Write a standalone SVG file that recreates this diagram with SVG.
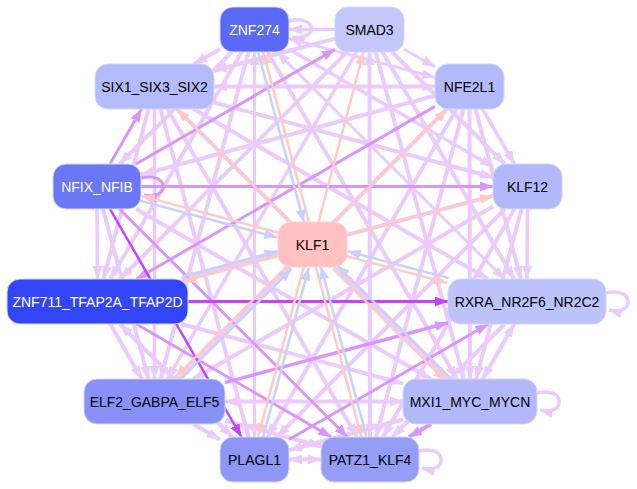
<svg xmlns="http://www.w3.org/2000/svg" width="637" height="489" viewBox="0 0 637 489">
<defs>
<style>
.e{fill:none;stroke-linecap:butt}
.L{stroke:#eacbfc}
.M{stroke:#da95fa}
.B{stroke:#c443fb}
.S{stroke:#ffcac4}
.C{stroke:#c9d1f9}
.w2{stroke-width:2.5}
.w3{stroke-width:3}
.w35{stroke-width:3.5}
.w4{stroke-width:4}
.n{stroke:#d3d6fb;stroke-width:1}
.t{font-family:"Liberation Sans",Arial,sans-serif;font-size:14px;text-anchor:middle;dominant-baseline:central}
.dk{fill:#000}
.wt{fill:#fff}
</style>
<marker id="aL" markerUnits="userSpaceOnUse" markerWidth="13" markerHeight="10" refX="13" refY="5" orient="auto-start-reverse"><path d="M0,0L13,5L0,10z" fill="#eacbfc"/></marker>
<marker id="aM" markerUnits="userSpaceOnUse" markerWidth="13" markerHeight="10" refX="13" refY="5" orient="auto-start-reverse"><path d="M0,0L13,5L0,10z" fill="#da95fa"/></marker>
<marker id="aB" markerUnits="userSpaceOnUse" markerWidth="13" markerHeight="10" refX="13" refY="5" orient="auto-start-reverse"><path d="M0,0L13,5L0,10z" fill="#c443fb"/></marker>
<marker id="aS" markerUnits="userSpaceOnUse" markerWidth="13" markerHeight="10" refX="13" refY="5" orient="auto-start-reverse"><path d="M0,0L13,5L0,10z" fill="#ffcac4"/></marker>
<marker id="aC" markerUnits="userSpaceOnUse" markerWidth="13" markerHeight="10" refX="13" refY="5" orient="auto-start-reverse"><path d="M0,0L13,5L0,10z" fill="#c9d1f9"/></marker>
</defs>
<rect width="637" height="489" fill="#fff"/>
<g id="edges">
<!-- outer edges -->
<line class="e L w35" x1="335" y1="29.5" x2="289" y2="29.5" marker-end="url(#aL)"/>
<line class="e L w4" x1="220" y1="49.2" x2="194" y2="64" marker-end="url(#aL)"/>
<line class="e L w3" x1="289" y1="38.6" x2="435" y2="77.4" marker-start="url(#aL)" marker-end="url(#aL)"/>
<line class="e L w4" x1="231.9" y1="52" x2="119.6" y2="164" marker-end="url(#aL)"/>
<line class="e L w35" x1="289" y1="49.3" x2="493" y2="166.7" marker-end="url(#aL)"/>
<line class="e L w4" x1="241.5" y1="52" x2="110.5" y2="279" marker-end="url(#aL)"/>
<line class="e L w3" x1="277" y1="52" x2="504.5" y2="279" marker-start="url(#aL)" marker-end="url(#aL)"/>
<line class="e L w4" x1="248.5" y1="52" x2="160.5" y2="379" marker-end="url(#aL)"/>
<line class="e L w4" x1="267.5" y1="52" x2="457" y2="379" marker-end="url(#aL)"/>
<line class="e L w3" x1="254.5" y1="52" x2="254.5" y2="437" marker-start="url(#aL)" marker-end="url(#aL)"/>
<line class="e L w4" x1="335" y1="38.6" x2="214" y2="70.7" marker-end="url(#aL)"/>
<line class="e L w3" x1="404" y1="49.2" x2="435" y2="66.8" marker-end="url(#aL)"/>
<line class="e L w4" x1="392.1" y1="52" x2="504.9" y2="164" marker-end="url(#aL)"/>
<line class="e L w4" x1="347" y1="52" x2="120" y2="279" marker-end="url(#aL)"/>
<line class="e L w4" x1="382.5" y1="52" x2="514" y2="279" marker-end="url(#aL)"/>
<line class="e L w35" x1="356.5" y1="52" x2="167.5" y2="379" marker-end="url(#aL)"/>
<line class="e L w4" x1="375.6" y1="52" x2="463.9" y2="379" marker-end="url(#aL)"/>
<line class="e L w4" x1="369.5" y1="52" x2="370" y2="437" marker-start="url(#aL)" marker-end="url(#aL)"/>
<line class="e L w4" x1="214" y1="86.5" x2="435" y2="86.5" marker-start="url(#aL)" marker-end="url(#aL)"/>
<line class="e L w4" x1="214" y1="102.5" x2="493" y2="177.2" marker-end="url(#aL)"/>
<line class="e L w4" x1="148.5" y1="109" x2="103.5" y2="279" marker-end="url(#aL)"/>
<line class="e L w4" x1="193.5" y1="109" x2="488" y2="279" marker-end="url(#aL)"/>
<line class="e L w35" x1="154.5" y1="109" x2="154.5" y2="379" marker-end="url(#aL)"/>
<line class="e L w4" x1="177" y1="109" x2="447.5" y2="379" marker-end="url(#aL)"/>
<line class="e L w4" x1="160.5" y1="109" x2="248.5" y2="437" marker-end="url(#aL)"/>
<line class="e L w4" x1="167.5" y1="109" x2="357" y2="437" marker-end="url(#aL)"/>
<line class="e L w4" x1="435" y1="95.8" x2="141" y2="174.7" marker-end="url(#aL)"/>
<line class="e L w35" x1="482.5" y1="109" x2="514.5" y2="164" marker-end="url(#aL)"/>
<line class="e L w4" x1="475.5" y1="109" x2="521" y2="279" marker-end="url(#aL)"/>
<line class="e L w4" x1="447" y1="109" x2="177" y2="379" marker-end="url(#aL)"/>
<line class="e L w4" x1="469.5" y1="109" x2="470" y2="379" marker-end="url(#aL)"/>
<line class="e L w4" x1="456.5" y1="109" x2="267.5" y2="437" marker-end="url(#aL)"/>
<line class="e L w4" x1="463.5" y1="109" x2="376" y2="437" marker-end="url(#aL)"/>
<line class="e L w35" x1="97" y1="209" x2="97.5" y2="279" marker-end="url(#aL)"/>
<line class="e L w4" x1="103" y1="209" x2="148.5" y2="379" marker-end="url(#aL)"/>
<line class="e L w4" x1="136" y1="209" x2="431" y2="379" marker-end="url(#aL)"/>
<line class="e L w4" x1="493" y1="195.7" x2="181.7" y2="279" marker-end="url(#aL)"/>
<line class="e L w35" x1="527.5" y1="209" x2="527" y2="279" marker-end="url(#aL)"/>
<line class="e L w4" x1="493" y1="206.4" x2="193.5" y2="379" marker-end="url(#aL)"/>
<line class="e L w4" x1="521.5" y1="209" x2="476" y2="379" marker-end="url(#aL)"/>
<line class="e L w4" x1="505" y1="209" x2="277" y2="437" marker-end="url(#aL)"/>
<line class="e L w4" x1="514.5" y1="209" x2="383" y2="437" marker-end="url(#aL)"/>
<line class="e L w4" x1="110.3" y1="324" x2="141.7" y2="379" marker-end="url(#aL)"/>
<line class="e L w4" x1="181.3" y1="324" x2="403" y2="383.5" marker-end="url(#aL)"/>
<line class="e L w4" x1="119.8" y1="324" x2="232.2" y2="437" marker-start="url(#aL)" marker-end="url(#aL)"/>
<line class="e L w4" x1="514.2" y1="324" x2="482.8" y2="379" marker-start="url(#aL)" marker-end="url(#aL)"/>
<line class="e L w4" x1="504.7" y1="324" x2="392.3" y2="437" marker-end="url(#aL)"/>
<line class="e L w4" x1="225" y1="401.5" x2="403" y2="401.5" marker-start="url(#aL)" marker-end="url(#aL)"/>
<line class="e L w4" x1="193.3" y1="424" x2="220" y2="439.5" marker-end="url(#aL)"/>
<line class="e L w4" x1="225" y1="420.5" x2="321" y2="446.3" marker-end="url(#aL)"/>
<line class="e L w4" x1="403" y1="419.5" x2="289" y2="450.2" marker-end="url(#aL)"/>
<line class="e L w4" x1="289" y1="459.5" x2="321" y2="459.5" marker-start="url(#aL)" marker-end="url(#aL)"/>
<!-- medium -->
<line class="e M w3" x1="136" y1="164" x2="335" y2="49.4" marker-end="url(#aM)"/>
<line class="e M w3" x1="109.9" y1="164" x2="141.6" y2="109" marker-end="url(#aM)"/>
<line class="e M w3" x1="435" y1="106.4" x2="136.4" y2="279" marker-end="url(#aM)"/>
<line class="e M w3" x1="141" y1="186.5" x2="493" y2="186.5" marker-end="url(#aM)"/>
<line class="e M w3" x1="119.5" y1="209" x2="347.5" y2="437" marker-end="url(#aM)"/>
<line class="e M w3" x1="136.2" y1="324" x2="331.3" y2="437" marker-end="url(#aM)"/>
<line class="e M w35" x1="225" y1="382.6" x2="448" y2="322.7" marker-end="url(#aM)"/>
<line class="e M w3" x1="289" y1="439.5" x2="488.3" y2="324" marker-end="url(#aM)"/>
<line class="e M w4" x1="431.2" y1="424" x2="408.8" y2="437" marker-end="url(#aM)"/>
<!-- bright -->
<line class="e B w2" x1="110" y1="209" x2="241.5" y2="437" marker-end="url(#aB)"/>
<line class="e B w3" x1="188" y1="301.5" x2="448" y2="301.5" marker-end="url(#aB)"/>
<!-- self loops -->
<path class="e L w35" d="M289,21C318,14 318,42 292,37" marker-end="url(#aL)"/>
<path class="e M w3" d="M141,178C170,171 170,201 144,195" marker-end="url(#aM)"/>
<path class="e L w35" d="M606,293C635,286 635,317 609,310" marker-end="url(#aL)"/>
<path class="e L w35" d="M537,393C566,386 566,417 540,410" marker-end="url(#aL)"/>
<path class="e L w35" d="M419,451C448,444 448,475 422,468" marker-end="url(#aL)"/>
<!-- KLF1 edges -->
<line class="e S w2" x1="308.8" y1="221.35" x2="263" y2="51.35" marker-end="url(#aS)"/>
<line class="e C w2" x1="258.2" y1="52.65" x2="304" y2="222.65" marker-end="url(#aC)"/>
<line class="e S w2" x1="318.5" y1="222" x2="363.5" y2="52" marker-end="url(#aS)"/>
<line class="e S w2" x1="290" y1="222" x2="177" y2="109" marker-end="url(#aS)"/>
<line class="e S w2" x1="334.8" y1="222" x2="447.2" y2="109" marker-end="url(#aS)"/>
<line class="e S w2" x1="347" y1="235.2" x2="493" y2="195.8" marker-end="url(#aS)"/>
<line class="e S w2" x1="278.65" y1="232.8" x2="141.65" y2="195.9" marker-end="url(#aS)"/>
<line class="e C w2" x1="140.35" y1="200.7" x2="277.35" y2="237.6" marker-end="url(#aC)"/>
<line class="e S w2" x1="278.64" y1="256" x2="183" y2="281.4" marker-end="url(#aS)"/>
<line class="e C w2" x1="181.8" y1="276.6" x2="277.4" y2="251.2" marker-end="url(#aC)"/>
<line class="e S w2" x1="346.4" y1="256.1" x2="447.4" y2="282.9" marker-end="url(#aS)"/>
<line class="e C w2" x1="448.6" y1="278.1" x2="347.6" y2="251.3" marker-end="url(#aC)"/>
<line class="e S w2" x1="333.2" y1="268.8" x2="445.7" y2="380.8" marker-end="url(#aS)"/>
<line class="e C w2" x1="449.3" y1="377.2" x2="336.8" y2="265.2" marker-end="url(#aC)"/>
<line class="e S w2" x1="304" y1="266.35" x2="258.2" y2="436.35" marker-end="url(#aS)"/>
<line class="e C w2" x1="263" y1="437.65" x2="308.8" y2="267.65" marker-end="url(#aC)"/>
<line class="e S w2" x1="316.1" y1="267.65" x2="361.6" y2="437.65" marker-end="url(#aS)"/>
<line class="e C w2" x1="366.4" y1="436.35" x2="320.9" y2="266.35" marker-end="url(#aC)"/>
<line class="e S w2" x1="288.1" y1="265.2" x2="175.3" y2="377.2" marker-end="url(#aS)"/>
<line class="e C w2" x1="178.9" y1="380.8" x2="291.7" y2="268.8" marker-end="url(#aC)"/>
</g>
<g id="ZNF274"><rect class="n" x="220" y="7" width="69" height="45" rx="13" fill="#5a6af6"/><text class="t wt" x="254.5" y="29.5">ZNF274</text></g>
<g id="SMAD3"><rect class="n" x="335" y="7" width="69" height="45" rx="13" fill="#c3c7fa"/><text class="t dk" x="369.5" y="29.5">SMAD3</text></g>
<g id="SIX1_SIX3_SIX2"><rect class="n" x="95" y="64" width="119" height="45" rx="13" fill="#b5bbfa"/><text class="t dk" x="154.5" y="86.5">SIX1_SIX3_SIX2</text></g>
<g id="NFE2L1"><rect class="n" x="435" y="64" width="69" height="45" rx="13" fill="#b3bafa"/><text class="t dk" x="469.5" y="86.5">NFE2L1</text></g>
<g id="NFIX_NFIB"><rect class="n" x="53" y="164" width="88" height="45" rx="13" fill="#6a78f5"/><text class="t wt" x="97" y="186.5">NFIX_NFIB</text></g>
<g id="KLF12"><rect class="n" x="493" y="164" width="69" height="45" rx="13" fill="#b2b9fb"/><text class="t dk" x="527.5" y="186.5">KLF12</text></g>
<g id="KLF1"><rect x="278" y="222" width="69" height="45" rx="13" fill="#ffc1c1" stroke="#ffd3d3" stroke-width="1"/><text class="t dk" x="312.5" y="244.5">KLF1</text></g>
<g id="ZNF711_TFAP2A_TFAP2D"><rect class="n" x="7" y="279" width="181" height="45" rx="13" fill="#3346f7"/><text class="t wt" x="97.5" y="301.5">ZNF711_TFAP2A_TFAP2D</text></g>
<g id="RXRA_NR2F6_NR2C2"><rect class="n" x="448" y="279" width="158" height="45" rx="13" fill="#bcc2fa"/><text class="t dk" x="527" y="301.5">RXRA_NR2F6_NR2C2</text></g>
<g id="ELF2_GABPA_ELF5"><rect class="n" x="84" y="379" width="141" height="45" rx="13" fill="#8891f7"/><text class="t dk" x="154.5" y="401.5">ELF2_GABPA_ELF5</text></g>
<g id="MXI1_MYC_MYCN"><rect class="n" x="403" y="379" width="134" height="45" rx="13" fill="#b2b8fa"/><text class="t dk" x="470" y="401.5">MXI1_MYC_MYCN</text></g>
<g id="PLAGL1"><rect class="n" x="220" y="437" width="69" height="45" rx="13" fill="#8e97f6"/><text class="t dk" x="254.5" y="459.5">PLAGL1</text></g>
<g id="PATZ1_KLF4"><rect class="n" x="321" y="437" width="98" height="45" rx="13" fill="#959df7"/><text class="t dk" x="370" y="459.5">PATZ1_KLF4</text></g>
</svg>
